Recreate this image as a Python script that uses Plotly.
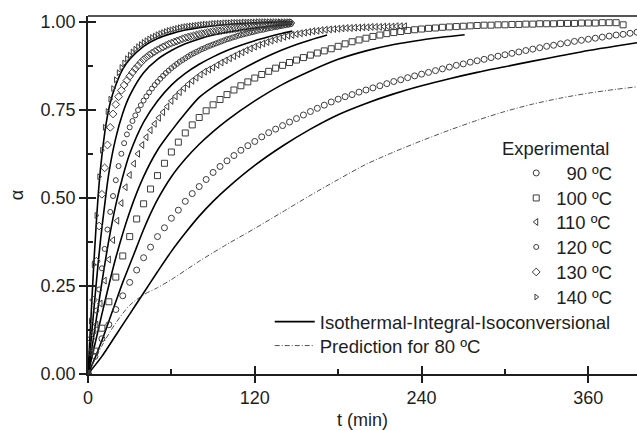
import plotly.graph_objects as go

# ---------------- data ----------------
# sampling times (min)
t_90 = [0, 5, 10, 15, 20, 25, 30, 35, 40, 45, 50, 55, 60, 65, 70, 75, 80, 85, 90, 95,
        100, 105, 110, 115, 120, 125, 130, 135, 140, 145, 150, 155, 160, 165, 170, 175, 180, 185, 190, 195,
        200, 205, 210, 215, 220, 225, 230, 235, 240, 245, 250, 255, 260, 265, 270, 275, 280, 285, 290, 295,
        300, 305, 310, 315, 320, 325, 330, 335, 340, 345, 350, 355, 360, 365, 370, 375, 380, 385, 390, 395]
a_90 = [0, 0.05, 0.10, 0.14, 0.183, 0.222, 0.26, 0.295, 0.33, 0.36, 0.39, 0.415, 0.442, 0.465, 0.49, 0.512, 0.532, 0.552, 0.572, 0.589,
        0.605, 0.62, 0.635, 0.648, 0.66, 0.673, 0.685, 0.695, 0.705, 0.715, 0.725, 0.735, 0.745, 0.754, 0.763, 0.772, 0.78, 0.787, 0.793, 0.8,
        0.806, 0.812, 0.818, 0.824, 0.83, 0.835, 0.841, 0.846, 0.851, 0.856, 0.861, 0.866, 0.871, 0.876, 0.88, 0.885, 0.889, 0.893, 0.898, 0.902,
        0.906, 0.91, 0.914, 0.918, 0.922, 0.926, 0.93, 0.933, 0.937, 0.94, 0.944, 0.947, 0.95, 0.953, 0.956, 0.959, 0.962, 0.964, 0.967, 0.97]

t_100 = [0, 5, 10, 15, 20, 25, 30, 35, 40, 45, 50, 55, 60, 65, 70, 75, 80, 85, 90, 95,
         100, 105, 110, 115, 120, 125, 130, 135, 140, 145, 150, 155, 160, 165, 170, 175, 180, 185, 190, 195,
         200, 205, 210, 215, 220, 225, 230, 235, 240, 245, 250, 255, 260, 265, 270, 275, 280, 285, 290, 295,
         300, 305, 310, 315, 320, 325, 330, 335, 340, 345, 350, 355, 360, 365, 370, 375, 380, 385]
a_100 = [0, 0.065, 0.13, 0.205, 0.275, 0.335, 0.39, 0.44, 0.483, 0.525, 0.563, 0.598, 0.63, 0.658, 0.684, 0.707, 0.728, 0.747, 0.764, 0.779,
         0.793, 0.806, 0.818, 0.829, 0.84, 0.85, 0.859, 0.868, 0.876, 0.884, 0.891, 0.898, 0.905, 0.911, 0.917, 0.923, 0.93, 0.937, 0.943, 0.948,
         0.953, 0.958, 0.962, 0.966, 0.969, 0.972, 0.975, 0.977, 0.979, 0.981, 0.982, 0.984, 0.985, 0.986, 0.987, 0.988, 0.989, 0.99, 0.99, 0.991,
         0.991, 0.992, 0.992, 0.993, 0.993, 0.994, 0.994, 0.994, 0.995, 0.995, 0.995, 0.996, 0.996, 0.996, 0.997, 0.997, 0.997, 0.991]

t_110 = [0, 3, 6, 9, 12, 15, 18, 21, 24, 27, 30, 33, 36, 39, 42, 45, 48, 51, 54, 57,
         60, 63, 66, 69, 72, 75, 78, 81, 84, 87, 90, 93, 96, 99, 102, 105, 108, 111, 114, 117,
         120, 123, 126, 129, 132, 135, 138, 141, 144, 147, 150, 153, 156, 159, 162, 165, 168, 171, 174, 177,
         180, 183, 186, 189, 192, 195, 198, 201, 204, 207, 210, 213, 216, 219, 222, 225, 228]
a_110 = [0, 0.07, 0.14, 0.20, 0.265, 0.325, 0.38, 0.435, 0.485, 0.53, 0.565, 0.597, 0.625, 0.65, 0.672, 0.692, 0.71, 0.727, 0.743, 0.759,
         0.775, 0.788, 0.80, 0.811, 0.822, 0.832, 0.841, 0.85, 0.858, 0.864, 0.87, 0.877, 0.884, 0.89, 0.896, 0.902, 0.908, 0.913, 0.919, 0.924,
         0.929, 0.934, 0.938, 0.942, 0.946, 0.95, 0.953, 0.957, 0.96, 0.962, 0.965, 0.967, 0.969, 0.971, 0.973, 0.974, 0.976, 0.977, 0.978, 0.979,
         0.98, 0.981, 0.982, 0.982, 0.983, 0.983, 0.984, 0.984, 0.985, 0.985, 0.985, 0.986, 0.986, 0.986, 0.987, 0.987, 0.987]

t_fast = [0, 2, 4, 6, 8, 10, 12, 14, 16, 18, 20, 22, 24, 26, 28, 30, 32, 34, 36, 38,
          40, 42, 44, 46, 48, 50, 52, 54, 56, 58, 60, 62, 64, 66, 68, 70, 72, 74, 76, 78,
          80, 82, 84, 86, 88, 90, 92, 94, 96, 98, 100, 102, 104, 106, 108, 110, 112, 114, 116, 118,
          120, 122, 124, 126, 128, 130, 132, 134, 136, 138, 140, 142, 144, 146]
a_120 = [0, 0.06, 0.12, 0.18, 0.24, 0.30, 0.355, 0.41, 0.46, 0.505, 0.55, 0.59, 0.625, 0.655, 0.68, 0.70, 0.718, 0.734, 0.749, 0.763,
         0.776, 0.788, 0.799, 0.81, 0.82, 0.829, 0.838, 0.846, 0.854, 0.861, 0.868, 0.874, 0.88, 0.886, 0.891, 0.896, 0.901, 0.906, 0.91, 0.914,
         0.918, 0.922, 0.925, 0.929, 0.932, 0.935, 0.938, 0.941, 0.944, 0.947, 0.95, 0.952, 0.955, 0.957, 0.96, 0.962, 0.964, 0.966, 0.968, 0.97,
         0.972, 0.974, 0.976, 0.977, 0.979, 0.981, 0.982, 0.984, 0.985, 0.987, 0.988, 0.99, 0.991, 0.993]
a_130 = [0, 0.10, 0.21, 0.32, 0.42, 0.51, 0.585, 0.65, 0.70, 0.738, 0.765, 0.787, 0.805, 0.82, 0.833, 0.845, 0.856, 0.866, 0.875, 0.884,
         0.892, 0.899, 0.905, 0.91, 0.915, 0.92, 0.924, 0.928, 0.932, 0.936, 0.939, 0.942, 0.945, 0.948, 0.951, 0.954, 0.956, 0.958, 0.96, 0.962,
         0.964, 0.966, 0.967, 0.969, 0.97, 0.972, 0.973, 0.974, 0.975, 0.976, 0.977, 0.978, 0.979, 0.98, 0.981, 0.982, 0.983, 0.984, 0.985, 0.985,
         0.986, 0.987, 0.988, 0.988, 0.989, 0.99, 0.991, 0.991, 0.992, 0.993, 0.994, 0.994, 0.995, 0.996]
a_140 = [0, 0.15, 0.31, 0.45, 0.56, 0.635, 0.70, 0.745, 0.78, 0.81, 0.835, 0.855, 0.87, 0.883, 0.895, 0.905, 0.914, 0.922, 0.929, 0.935,
         0.941, 0.946, 0.951, 0.955, 0.959, 0.963, 0.966, 0.969, 0.972, 0.975, 0.977, 0.979, 0.981, 0.983, 0.985, 0.986, 0.987, 0.988, 0.989, 0.99,
         0.991, 0.992, 0.993, 0.993, 0.994, 0.995, 0.995, 0.996, 0.996, 0.997, 0.997, 0.997, 0.998, 0.998, 0.998, 0.998, 0.999, 0.999, 0.999, 0.999,
         0.999, 1.0, 1.0, 1.0, 1.0, 1.0, 1.0, 1.0, 1.0, 1.0, 1.0, 1.0, 1.0, 1.0]

# model curves (Isothermal-Integral-Isoconversional)
tm_90 = [0, 10, 20, 30, 40, 50, 60, 70, 80, 90, 100, 120, 140, 160, 180, 200, 220, 240, 260, 280, 300, 320, 340, 360, 380, 395]
am_90 = [0, 0.05, 0.11, 0.17, 0.23, 0.29, 0.348, 0.40, 0.448, 0.49, 0.527, 0.592, 0.647, 0.695, 0.736, 0.768, 0.795, 0.818, 0.838, 0.856, 0.872, 0.888, 0.903, 0.918, 0.931, 0.94]
tm_100 = [0, 5, 10, 15, 20, 25, 30, 35, 40, 45, 50, 60, 70, 80, 90, 100, 120, 140, 160, 180, 200, 220, 240, 260, 271]
am_100 = [0, 0.045, 0.095, 0.15, 0.205, 0.26, 0.31, 0.36, 0.41, 0.455, 0.495, 0.56, 0.61, 0.652, 0.688, 0.72, 0.775, 0.822, 0.86, 0.893, 0.917, 0.935, 0.948, 0.958, 0.963]
tm_110 = [0, 10, 20, 30, 40, 50, 60, 70, 80, 90, 100, 110, 120, 130, 140, 150, 160, 172]
am_110 = [0, 0.17, 0.33, 0.46, 0.56, 0.635, 0.69, 0.74, 0.785, 0.815, 0.84, 0.863, 0.884, 0.903, 0.92, 0.935, 0.948, 0.962]
tm_120 = [0, 5, 10, 15, 20, 25, 30, 40, 50, 60, 70, 80, 90, 100, 110, 120, 130, 140, 147]
am_120 = [0, 0.13, 0.26, 0.38, 0.48, 0.56, 0.625, 0.715, 0.775, 0.82, 0.853, 0.879, 0.90, 0.918, 0.933, 0.946, 0.957, 0.967, 0.973]
tm_130 = [0, 3, 6, 9, 12, 15, 20, 25, 30, 40, 50, 60, 70, 80, 90, 100, 120, 147]
am_130 = [0, 0.13, 0.26, 0.38, 0.48, 0.57, 0.67, 0.74, 0.79, 0.855, 0.893, 0.918, 0.937, 0.951, 0.962, 0.97, 0.982, 0.993]
tm_140 = [0, 2, 4, 6, 8, 10, 13, 16, 20, 25, 30, 40, 50, 60, 70, 80, 100, 120, 147]
am_140 = [0, 0.15, 0.30, 0.43, 0.54, 0.62, 0.71, 0.77, 0.82, 0.865, 0.893, 0.93, 0.952, 0.966, 0.976, 0.983, 0.992, 0.997, 1.0]

# prediction for 80 ºC
tp_80 = [0, 10, 20, 30, 40, 50, 60, 80, 100, 120, 140, 160, 180, 200, 220, 240, 260, 280, 300, 320, 340, 360, 380, 395]
ap_80 = [0, 0.08, 0.145, 0.195, 0.225, 0.245, 0.268, 0.32, 0.368, 0.413, 0.46, 0.507, 0.552, 0.595, 0.63, 0.662, 0.692, 0.72, 0.745, 0.766, 0.783, 0.797, 0.808, 0.815]

labels = ["\u200790 ºC", "100 ºC", "110 ºC", "120 ºC", "130 ºC", "140 ºC"]
x_ticks = [0, 120, 240, 360]
y_ticks = [0.0, 0.25, 0.50, 0.75, 1.00]
y_ticklabels = ["0.00", "0.25", "0.50", "0.75", "1.00"]

# ---------------- figure ----------------
FONT = "Liberation Sans, Arial, sans-serif"
INK = "#1e1e1e"
MK = "#3c3c3c"

W, H = 637, 430
ML, MR, MT, MB = 88, 0, 16, 56
PH = H - MT - MB


def py2paper(py):
    return (H - MB - py) / PH


fig = go.Figure()

exp_series = [
    (t_90, a_90, "circle-open", 6),
    (t_100, a_100, "square-open", 6),
    (t_110, a_110, "triangle-left-open", 6),
    (t_fast, a_120, "circle-open", 5),
    (t_fast, a_130, "diamond-open", 6),
    (t_fast, a_140, "triangle-right-open", 5),
]
model_series = [(tm_90, am_90), (tm_100, am_100), (tm_110, am_110),
                (tm_120, am_120), (tm_130, am_130), (tm_140, am_140)]

for i, (tm, am) in enumerate(model_series):
    fig.add_trace(go.Scatter(
        x=tm, y=am, mode="lines", line=dict(color="black", width=1.6, shape="spline", smoothing=0.8),
        name="Isothermal-Integral-Isoconversional", legend="legend7",
        showlegend=(i == 0), legendgroup="model", hoverinfo="skip"))

fig.add_trace(go.Scatter(
    x=tp_80, y=ap_80, mode="lines",
    line=dict(color="#505050", width=1, dash="5px,2px,1px,2px", shape="spline", smoothing=0.8),
    name="Prediction for 80 ºC", legend="legend8", legendgroup="pred"))

legend_names = ["legend", "legend2", "legend3", "legend4", "legend5", "legend6"]
for (t, a, sym, sz), lab, lg in zip(exp_series, labels, legend_names):
    fig.add_trace(go.Scatter(
        x=t, y=a, mode="markers", name=lab, legend=lg,
        marker=dict(symbol=sym, size=sz, color=MK, line=dict(width=1, color=MK))))

axis_common = dict(showgrid=False, zeroline=False, showline=True, linecolor=INK, linewidth=1.5,
                   tickcolor=INK, tickwidth=1.5, ticklen=7, ticks="outside",
                   tickfont=dict(family=FONT, size=18, color=INK))

legend_layout = {}
marker_rows = [173, 198, 222, 247, 272, 297]
for lg, row in zip(legend_names, marker_rows):
    legend_layout[lg] = dict(x=0.78, y=py2paper(row), xanchor="left", yanchor="middle",
                             bgcolor="rgba(0,0,0,0)", font=dict(family=FONT, size=18.4, color=INK),
                             itemwidth=30)
legend_layout["legend7"] = dict(x=0.331, y=py2paper(322), xanchor="left", yanchor="middle",
                                bgcolor="rgba(0,0,0,0)", font=dict(family=FONT, size=18.6, color=INK),
                                itemwidth=40)
legend_layout["legend8"] = dict(x=0.331, y=py2paper(346), xanchor="left", yanchor="middle",
                                bgcolor="rgba(0,0,0,0)", font=dict(family=FONT, size=18.6, color=INK),
                                itemwidth=40)

fig.update_layout(
    width=W, height=H,
    margin=dict(l=ML, r=MR, t=MT, b=MB),
    paper_bgcolor="white", plot_bgcolor="white",
    font=dict(family=FONT, size=18, color=INK),
    xaxis=dict(range=[0, 395], tickvals=x_ticks, title=dict(text="t (min)", standoff=6,
               font=dict(family=FONT, size=18, color=INK)),
               minor=dict(tickvals=[60, 180, 300], ticks="inside", ticklen=5, tickwidth=1.5, tickcolor=INK),
               **axis_common),
    yaxis=dict(range=[0, 1.016], tickvals=y_ticks, ticktext=y_ticklabels,
               title=dict(text="α", standoff=12, font=dict(family=FONT, size=18, color=INK)),
               minor=dict(tickvals=[0.125, 0.375, 0.625, 0.875], ticks="inside", ticklen=5, tickwidth=1.5, tickcolor=INK),
               **axis_common),
    xaxis2=dict(overlaying="x", anchor="y", side="bottom", range=[0, 395], tickvals=x_ticks,
                ticks="inside", ticklen=8, tickwidth=1.5, tickcolor=INK, showticklabels=False,
                showline=False, showgrid=False, zeroline=False),
    yaxis2=dict(overlaying="y", anchor="x", side="left", range=[0, 1.016], tickvals=y_ticks,
                ticks="inside", ticklen=8, tickwidth=1.5, tickcolor=INK, showticklabels=False,
                showline=False, showgrid=False, zeroline=False),
    shapes=[dict(type="line", xref="paper", yref="paper", x0=0, x1=1, y0=1, y1=1,
                 line=dict(color=INK, width=1.5))],
    annotations=[dict(text="Experimental", xref="paper", yref="paper", x=0.952, y=py2paper(148),
                      xanchor="right", yanchor="middle", showarrow=False,
                      font=dict(family=FONT, size=18.4, color=INK))],
    showlegend=True,
    **legend_layout,
)

# invisible helper trace so the overlay axes (double-sided major ticks) are drawn
fig.add_trace(go.Scatter(x=[0], y=[0], xaxis="x2", yaxis="y2", mode="markers",
                         marker=dict(opacity=0), showlegend=False, hoverinfo="skip"))

fig.write_html("out.html")
